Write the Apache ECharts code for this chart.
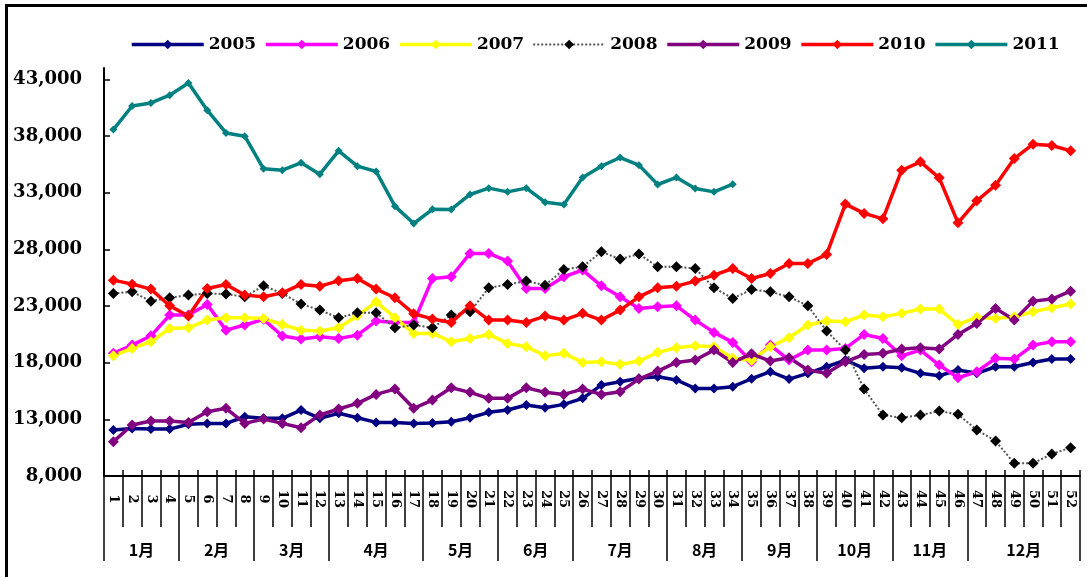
<!DOCTYPE html>
<html>
<head>
<meta charset="utf-8">
<script src="https://cdn.jsdelivr.net/npm/echarts@6/dist/echarts.min.js"></script>
<style>
    html, body { margin: 0; padding: 0; background: #fff; }
    #main { position: absolute; left: 0; top: 0; width: 1087px; height: 577px; }
    .frame { position: absolute; left: 5px; top: 4px; width: 1100px; height: 600px;
             border-left: 3px solid #000; border-top: 3px solid #000; pointer-events: none; }
</style>
</head>
<body>
<div id="main"></div>
<div class="frame"></div>
<script>
var weeks = [];
for (var w = 1; w <= 52; w++) weeks.push(String(w));
var months = ['1月', '2月', '3月', '4月', '5月', '6月', '7月', '8月', '9月', '10月', '11月', '12月'];
var monthLastWeek = [4, 8, 12, 17, 21, 25, 30, 34, 38, 42, 46, 52];
var yTicks = { min: 8000, max: 44000, step: 5000 };

var d2005 = [12060, 12200, 12140, 12140, 12560, 12640, 12640, 13230, 13090, 13090, 13820, 13090, 13530, 13140, 12730, 12730, 12640, 12680, 12790, 13140, 13620, 13820, 14260, 14020, 14320, 14850, 16020, 16320, 16620, 16760, 16470, 15730, 15730, 15880, 16580, 17200, 16550, 17060, 17640, 18230, 17500, 17640, 17560, 17060, 16850, 17350, 17060, 17640, 17640, 18020, 18320, 18320];
var d2006 = [18820, 19550, 20370, 22200, 22200, 23140, 20870, 21320, 21820, 20350, 20080, 20280, 20140, 20430, 21670, 21550, 21550, 25430, 25580, 27640, 27640, 26960, 24550, 24550, 25580, 26170, 24780, 23810, 22780, 22930, 23020, 21760, 20670, 19790, 18080, 19550, 18230, 19110, 19110, 19260, 20490, 20140, 18610, 19110, 17790, 16670, 17200, 18380, 18320, 19550, 19850, 19850];
var d2007 = [18610, 19260, 19850, 21020, 21080, 21760, 21960, 21960, 21900, 21370, 20870, 20790, 21080, 22140, 23370, 21960, 20580, 20580, 19850, 20140, 20490, 19700, 19410, 18610, 18820, 18020, 18080, 17850, 18140, 18910, 19310, 19490, 19410, 18380, 18200, 19410, 20200, 21320, 21670, 21610, 22200, 22050, 22350, 22730, 22730, 21370, 22000, 21900, 22050, 22490, 22840, 23170];
var d2008 = [24110, 24250, 23430, 23730, 23960, 24110, 24050, 23810, 24780, 24110, 23170, 22640, 21960, 22400, 22400, 21080, 21320, 21080, 22200, 22490, 24600, 24900, 25200, 24840, 26220, 26460, 27780, 27140, 27580, 26460, 26460, 26310, 24600, 23670, 24450, 24250, 23810, 23020, 20790, 19110, 15670, 13380, 13140, 13380, 13730, 13440, 12060, 11090, 9120, 9120, 9940, 10500];
var d2009 = [11030, 12500, 12850, 12850, 12730, 13670, 13970, 12640, 13030, 12640, 12260, 13380, 13910, 14410, 15200, 15670, 13970, 14700, 15790, 15380, 14850, 14850, 15790, 15380, 15200, 15670, 15200, 15440, 16550, 17260, 18020, 18230, 19110, 18020, 18780, 18140, 18430, 17350, 17060, 18080, 18730, 18820, 19200, 19310, 19200, 20490, 21460, 22790, 21760, 23430, 23610, 24310];
var d2010 = [25280, 24930, 24490, 23020, 22110, 24550, 24900, 23960, 23810, 24160, 24900, 24750, 25220, 25430, 24490, 23730, 22320, 21860, 21550, 23020, 21760, 21760, 21550, 22110, 21760, 22350, 21760, 22640, 23810, 24600, 24750, 25200, 25720, 26310, 25430, 25870, 26750, 26750, 27550, 31990, 31170, 30690, 34980, 35720, 34310, 30340, 32280, 33660, 36010, 37280, 37160, 36690];
var d2011 = [38570, 40650, 40920, 41600, 42680, 40280, 38270, 37980, 35100, 34980, 35630, 34630, 36690, 35340, 34870, 31810, 30280, 31530, 31520, 32840, 33400, 33070, 33400, 32160, 31960, 34340, 35340, 36100, 35430, 33720, 34340, 33370, 33070, 33750];

// 半周刻度：月份标签放在每月中间，分隔线放在月末
var halfSlots = [];
for (var h = 0; h <= 104; h++) halfSlots.push(String(h));
var monthEdge = { 0: true };
var monthCenter = {};
var prev = 0;
for (var m = 0; m < monthLastWeek.length; m++) {
    monthEdge[monthLastWeek[m] * 2] = true;
    monthCenter[prev + monthLastWeek[m]] = months[m];
    prev = monthLastWeek[m];
}

var black = { color: '#000', width: 1.5 };
var serif = 'DejaVu Serif';
var dotted = { color: '#555', width: 2, type: 'dotted' };

function lineSeries(name, data, color, size, lineStyle) {
    return {
        name: name,
        type: 'line',
        data: data,
        symbol: 'diamond',
        symbolSize: size,
        showSymbol: true,
        itemStyle: { color: color },
        lineStyle: lineStyle || { color: color, width: 3.5 },
        emphasis: { disabled: true },
        animation: false
    };
}

var chart = echarts.init(document.getElementById('main'));
chart.setOption({
    backgroundColor: '#fff',
    animation: false,
    legend: {
        left: 125,
        top: 31,
        itemWidth: 72,
        itemHeight: 12,
        itemGap: 8,
        lineStyle: { width: 3.5 },
        textStyle: { fontFamily: serif, fontWeight: 'bold', fontSize: 17, color: '#000' },
        data: ['2005', '2006', '2007', { name: '2008', lineStyle: dotted }, '2009', '2010', '2011']
    },
    grid: { left: 104, right: 7, top: 68, bottom: 101, outerBoundsMode: 'none' },
    xAxis: [
        {
            type: 'category', data: weeks, position: 'bottom', boundaryGap: true,
            axisLine: { lineStyle: { color: '#000', width: 2 } },
            axisTick: { show: true, inside: true, length: 6, interval: 0, lineStyle: black },
            axisLabel: {
                interval: 0, rotate: -90, align: 'center', margin: 23,
                fontFamily: serif, fontWeight: 'bold', fontSize: 13, color: '#000'
            }
        },
        {
            type: 'category', data: weeks, position: 'bottom', boundaryGap: true,
            axisLine: { show: false },
            axisTick: { show: true, length: 51, interval: 0, lineStyle: black },
            axisLabel: { show: false }
        },
        {
            type: 'category', data: halfSlots, position: 'bottom', boundaryGap: false,
            axisLine: { show: false },
            axisTick: {
                show: true, length: 85, lineStyle: black,
                interval: function (index) { return !!monthEdge[index]; }
            },
            axisLabel: {
                interval: 0, margin: 66,
                fontFamily: 'Noto Sans CJK SC', fontWeight: 'bold', fontSize: 16, color: '#000',
                formatter: function (value, index) { return monthCenter[index] || ''; }
            }
        }
    ],
    yAxis: {
        type: 'value',
        min: yTicks.min,
        max: yTicks.max,
        interval: yTicks.step,
        axisLine: { show: true, lineStyle: { color: '#000', width: 2 } },
        axisTick: { show: true, inside: true, length: 6, lineStyle: black },
        splitLine: { show: false },
        axisLabel: {
            showMaxLabel: false,
            margin: 22,
            fontFamily: serif, fontWeight: 'bold', fontSize: 18, color: '#000',
            formatter: function (v) { return v.toLocaleString('en-US'); }
        }
    },
    series: [
        lineSeries('2005', d2005, '#000080', 10),
        lineSeries('2006', d2006, '#FF00FF', 11),
        lineSeries('2007', d2007, '#FFFF00', 11),
        lineSeries('2008', d2008, '#000000', 11, dotted),
        lineSeries('2009', d2009, '#800080', 11),
        lineSeries('2010', d2010, '#FF0000', 11),
        lineSeries('2011', d2011, '#008080', 8, { color: '#008080', width: 3.5 })
    ]
});
</script>
</body>
</html>
